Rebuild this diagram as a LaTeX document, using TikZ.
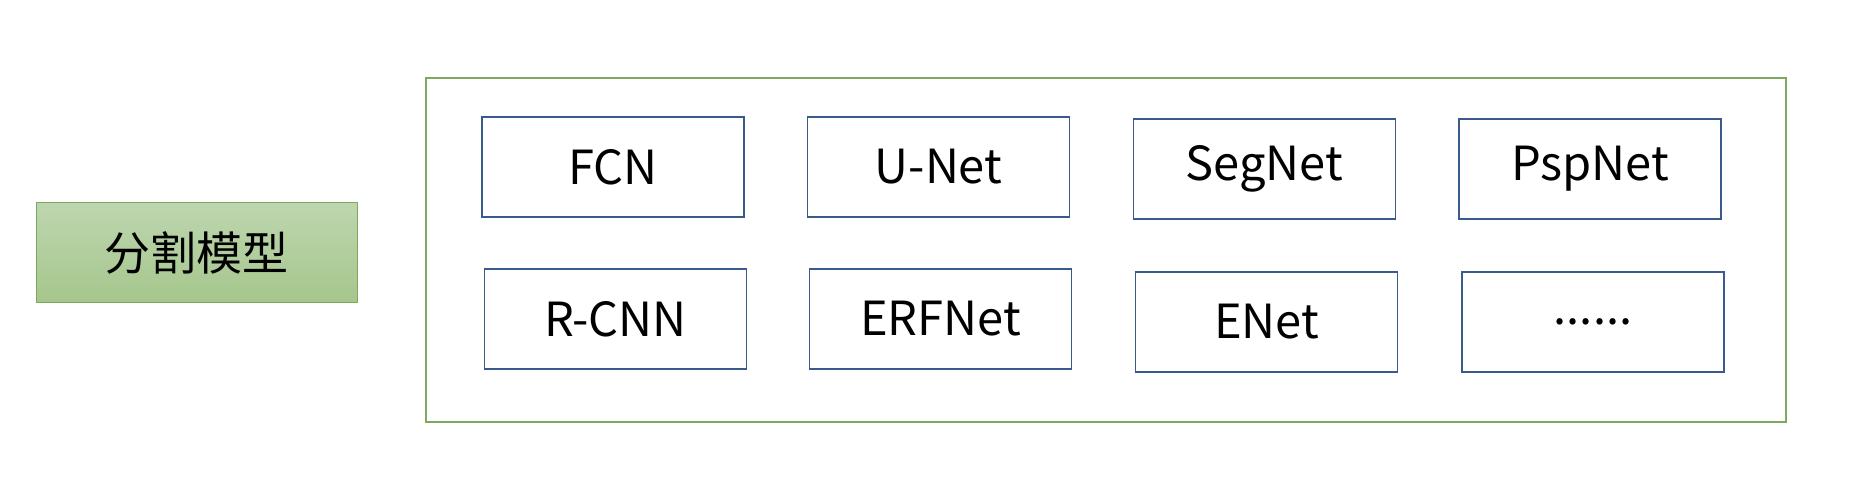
\documentclass[tikz,border=0pt]{standalone}
\usepackage{fontspec}
\setmainfont{Noto Sans CJK SC}
\definecolor{netblue}{HTML}{3A5A8E}
\definecolor{framegreen}{HTML}{7EA85C}
\definecolor{topgreen}{HTML}{BED6AF}
\definecolor{botgreen}{HTML}{A5C68C}

\begin{document}
\begin{tikzpicture}
  [x=0.5pt,y=-0.5pt,
   net/.style={draw=netblue,line width=0.7pt,minimum width=131pt,minimum height=50pt,inner sep=0pt,font=\fontsize{23.5}{27}\selectfont},
   model/.style={draw=framegreen,line width=0.5pt,top color=topgreen,bottom color=botgreen,minimum width=160.5pt,minimum height=50pt,inner sep=0pt,font=\fontsize{23}{27}\selectfont},
   frame/.style={draw=framegreen,line width=0.7pt,minimum width=680pt,minimum height=172pt,inner sep=0pt}]
  \useasboundingbox (0,0) rectangle (1850,496);
  \node[model] (seg) at (196.5,253) {分割模型};
  \node[frame] (box) at (1106,250) {};
  % first row
  \node[net] (n1) at (613,167)    {FCN};
  \node[net] (n2) at (938.5,167)  {U-Net};
  \node[net] (n3) at (1264.5,169) {SegNet};
  \node[net] (n4) at (1590,169)   {PspNet};
  % second row
  \node[net] (n5) at (615.5,319)  {R-CNN};
  \node[net] (n6) at (940.5,319)  {ERFNet};
  \node[net] (n7) at (1266.5,322) {ENet};
  \node[net] (n8) at (1593,322)   {......};
\end{tikzpicture}
\end{document}
